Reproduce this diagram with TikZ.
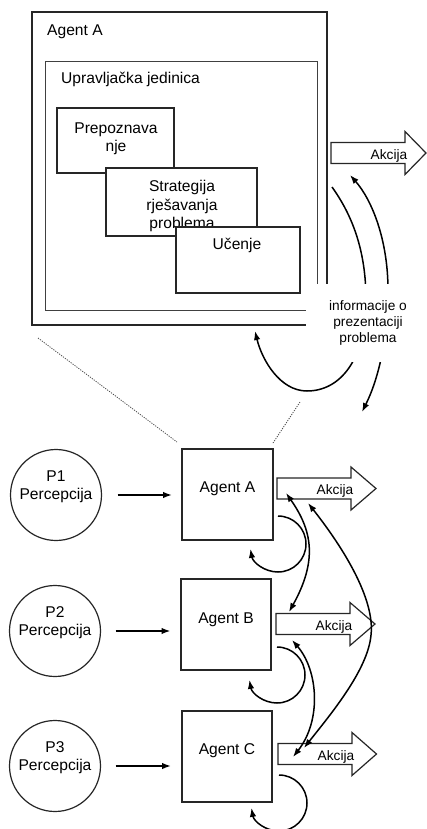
\documentclass[tikz,border=0pt]{standalone}
\usepackage{fontspec}
\setmainfont{Liberation Sans}
\usetikzlibrary{arrows.meta,calc}
\tikzset{
  maintext/.style={font=\fontsize{15.6}{18.3}\selectfont, inner sep=0pt, text=black},
  circtext/.style={font=\fontsize{15.6}{17.5}\selectfont, inner sep=0pt, align=center, text=black},
  smalltext/.style={font=\fontsize{13.7}{16}\selectfont, inner sep=0pt, text=black},
  outerbox/.style={draw=black!85, line width=1.3pt, fill=white, outer sep=0pt, inner sep=0pt},
  ctrlbox/.style={draw=black!75, line width=1pt, fill=white, outer sep=0pt, inner sep=0pt},
  box/.style={draw=black!85, line width=1.2pt, fill=white, outer sep=0pt, inner sep=0pt},
  circ/.style={draw=black!85, line width=1.2pt, circle, fill=white, outer sep=0pt, inner sep=0pt, minimum size=91pt},
  blockline/.style={draw=black!85, line width=1.2pt, fill=white, line join=miter},
  conn/.style={line width=1.5pt, draw=black, -{Latex[length=9pt,width=6.5pt]}},
  conn2/.style={line width=1.5pt, draw=black, {Latex[length=9pt,width=6.5pt]}-{Latex[length=9pt,width=6.5pt]}},
  dotline/.style={draw=black!70, line width=0.8pt, dash pattern=on 1.2pt off 1.2pt},
}
\newcommand\akcijaarrow[4]{%
  \coordinate (#1) at (#2,#3);
  \draw[blockline] (#2,#3-10.5) -- (#2+74,#3-10.5) -- (#2+74,#3-21.5) -- (#2+74+#4,#3)
    -- (#2+74,#3+21.5) -- (#2+74,#3+10.5) -- (#2,#3+10.5) -- cycle;
  \node[smalltext] (#1txt) at (#2+58,#3+2.5) {Akcija};
}
\begin{document}
\begin{tikzpicture}[x=1pt,y=-1pt]
\useasboundingbox (0,0) rectangle (427,829);

% ---------- top: detailed Agent A ----------
\node[outerbox, minimum width=295pt, minimum height=313pt, anchor=north west] (outer) at (32,12) {};
\node[maintext, anchor=base west] (outerlbl) at (47,36) {Agent A};
\node[ctrlbox, minimum width=272pt, minimum height=248pt, anchor=north west] (ctrl) at (45,62) {};
\node[maintext, anchor=base west] (ctrllbl) at (61,84) {Upravljačka jedinica};

\node[box, minimum width=117pt, minimum height=65pt, anchor=north west] (prep) at (57,108) {};
\node[maintext, align=center] (preptxt) at (116,138.5) {Prepoznava\\nje};
\node[box, minimum width=151pt, minimum height=68pt, anchor=north west] (strat) at (106,168) {};
\node[maintext, align=center] (strattxt) at (182,206) {Strategija\\rješavanja\\problema};
\node[box, minimum width=124pt, minimum height=66pt, anchor=north west] (ucenje) at (176,227) {};
\node[maintext] (ucenjetxt) at (237,245) {Učenje};

\akcijaarrow{topak}{331}{153}{21}

\coordinate (arcLs) at ($(topak)+(1,34)$);
\coordinate (arcLe) at ($(outer.south west)+(223,6)$);
\draw[conn] (arcLs) .. controls (352,215) and (366,250) .. (366,300)
  .. controls (366,360) and (340,391) .. (307,391)
  .. controls (280,391) and (262,360) .. (arcLe);
\coordinate (arcRs) at (362,412);
\coordinate (arcRe) at ($(topak)+(19,22)$);
\draw[conn2] (arcRs) .. controls (378,380) and (388,340) .. (388,290)
  .. controls (388,240) and (372,200) .. (arcRe);

\node[smalltext, align=center, fill=white, minimum width=124pt, minimum height=78pt] (info) at (368,323)
  {informacije o\\prezentaciji\\problema};

% ---------- bottom: agents ----------
\node[box, minimum width=91pt, minimum height=91pt] (agA) at (227.5,494.5) {};
\node[box, minimum width=90pt, minimum height=91pt] (agB) at (226,624.5) {};
\node[box, minimum width=90pt, minimum height=91pt] (agC) at (227,756.5) {};
\node[maintext] (agAtxt) at ($(agA)+(0,-6)$) {Agent A};
\node[maintext] (agBtxt) at ($(agB)+(0,-5)$) {Agent B};
\node[maintext] (agCtxt) at ($(agC)+(0,-6)$) {Agent C};

\coordinate (dotL) at ($(outer.south west)+(6,13)$);
\coordinate (dotR) at (300,402);
\draw[dotline] (dotL) -- ($(agA.north west)+(-5,-7)$);
\draw[dotline] (dotR) -- ($(agA.north east)+(0,-6)$);

\node[circ] (p1) at (56,495) {};
\node[circ] (p2) at (55,631) {};
\node[circ] (p3) at (55,766) {};
\node[circtext] (p1txt) at ($(p1)+(0,-8.5)$) {P1\\Percepcija};
\node[circtext] (p2txt) at ($(p2)+(0,-8.5)$) {P2\\Percepcija};
\node[circtext] (p3txt) at ($(p3)+(0,-8.5)$) {P3\\Percepcija};

\draw[conn, shorten <=16pt, shorten >=10pt] (p1.east) -- (p1.east -| agA.west);
\draw[conn, shorten <=15pt, shorten >=10.5pt] (p2.east) -- (p2.east -| agB.west);
\draw[conn, shorten <=15pt, shorten >=11pt] (p3.east) -- (p3.east -| agC.west);

\akcijaarrow{akA}{277}{488.5}{25}
\akcijaarrow{akB}{276}{624}{25}
\akcijaarrow{akC}{278}{754}{24.5}

% self loops
\draw[conn] ($(agA.east)+(5,21.5)$) arc[start angle=-90, end angle=170, radius=28];
\draw[conn] ($(agB.east)+(6,22.5)$) arc[start angle=-90, end angle=170, radius=28];
\draw[conn] ($(agC.east)+(7,18.5)$) arc[start angle=-90, end angle=170, radius=28];

% connections between actions
\draw[conn2] ($(akA)+(9,4.5)$) .. controls (312,530) and (318,560) .. ($(akB)+(13,-12)$);
\draw[conn2] ($(akA)+(31,14.5)$) .. controls (345,550) and (375,600) .. (371,635)
  .. controls (368,670) and (330,715) .. ($(akC)+(26,-6)$);
\draw[conn2] ($(akB)+(16,16)$) .. controls (318,670) and (322,720) .. ($(akC)+(15,3)$);
\end{tikzpicture}
\end{document}
